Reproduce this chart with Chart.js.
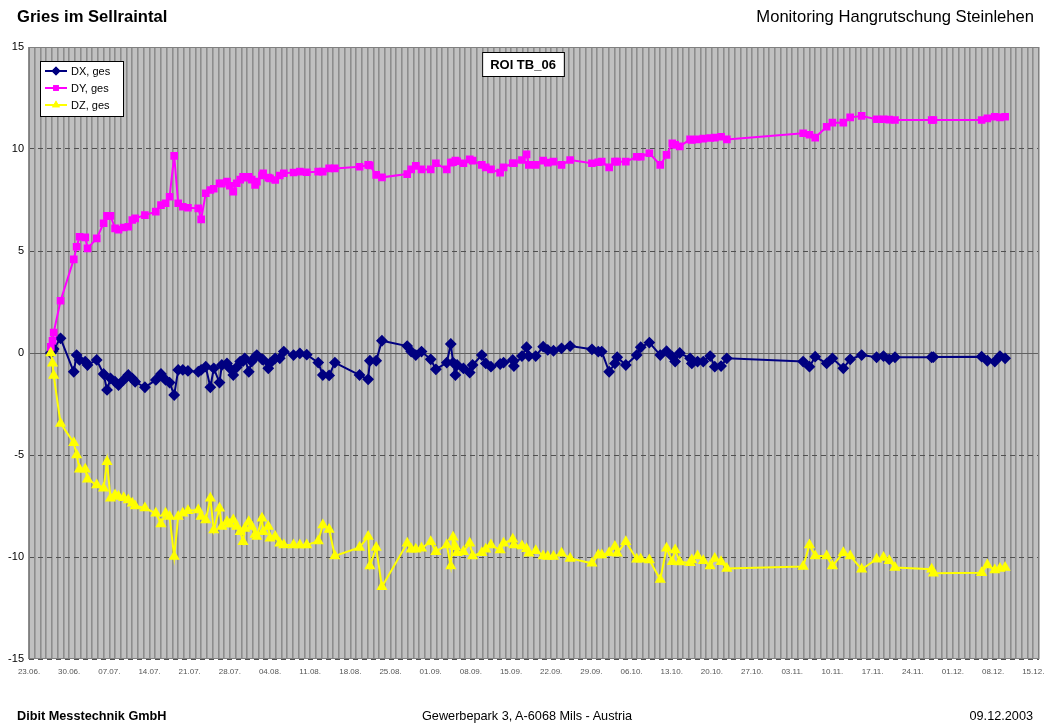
<!DOCTYPE html>
<html>
<head>
<meta charset="utf-8">
<script src="https://cdn.jsdelivr.net/npm/chart.js@4/dist/chart.umd.min.js"></script>
<style>
  html,body{margin:0;padding:0;background:#fff;}
  #wrap{position:relative;width:1048px;height:728px;overflow:hidden;font-family:"Liberation Sans",Arial,sans-serif;}
  #c{position:absolute;left:0;top:0;}
  .t{position:absolute;white-space:nowrap;color:#000;}
</style>
</head>
<body>
<div id="wrap">
  <canvas id="c" width="1048" height="728"></canvas>
  <div class="t" style="left:17px;top:7px;font-size:16.6px;font-weight:bold;">Gries im Sellraintal</div>
  <div class="t" style="right:14px;top:7px;font-size:16.6px;">Monitoring Hangrutschung Steinlehen</div>
  <div class="t" style="left:17px;top:709px;font-size:12.7px;font-weight:bold;">Dibit Messtechnik GmbH</div>
  <div class="t" style="left:422px;top:709px;font-size:12.7px;">Gewerbepark 3, A-6068 Mils - Austria</div>
  <div class="t" style="right:15px;top:709px;font-size:12.7px;">09.12.2003</div>
</div>
<script>
// ---- data (x = days since 23.06.2003) ----
const days = [3.8,4.1,4.3,5.5,7.8,8.3,8.8,9.8,10.2,11.8,13.0,13.6,14.2,15.0,15.6,16.5,17.3,18.0,18.5,20.2,
22.1,23.0,23.8,24.5,25.3,26.0,26.8,27.7,29.5,30.0,30.8,31.6,32.2,33.2,33.6,34.5,35.0,35.6,36.2,36.8,
37.3,37.6,38.3,38.8,39.4,39.7,40.6,40.8,41.7,42.0,42.9,43.7,44.4,46.1,47.2,48.4,50.4,51.2,52.3,53.3,
57.6,59.1,59.4,60.5,61.5,65.9,66.6,67.4,68.4,70.0,70.9,72.8,73.5,73.9,74.3,74.6,75.7,76.8,77.3,78.9,
79.6,80.5,82.1,82.7,84.3,84.5,85.9,86.7,87.1,88.3,89.6,90.4,91.4,92.8,94.3,98.1,99.2,99.8,101.1,102.1,
102.5,104.0,105.9,106.6,108.1,110.0,111.1,112.1,112.6,113.4,115.2,115.5,116.5,117.5,118.7,119.5,120.6,121.6,
134.9,136.0,137.0,139.0,140.0,141.9,143.1,145.1,147.7,148.9,149.9,150.9,157.3,157.6,166.0,167.0,168.3,169.2,170.1];
const dx = [0.0,0.1,0.2,0.72,-0.92,-0.10,-0.34,-0.42,-0.59,-0.34,-1.03,-1.81,-1.24,-1.41,-1.57,-1.32,-1.08,-1.25,-1.41,-1.68,
-1.32,-1.03,-1.32,-1.45,-2.06,-0.83,-0.83,-0.88,-0.92,-0.83,-0.67,-1.68,-0.75,-1.45,-0.59,-0.51,-0.75,-1.08,-0.70,-0.42,
-0.40,-0.26,-0.92,-0.42,-0.20,-0.10,-0.30,-0.34,-0.75,-0.50,-0.26,-0.26,0.07,-0.10,-0.02,-0.08,-0.47,-1.08,-1.10,-0.47,
-1.08,-1.29,-0.38,-0.38,0.60,0.34,0.07,-0.10,0.07,-0.31,-0.80,-0.47,0.44,-0.47,-1.08,-0.59,-0.75,-0.96,-0.59,-0.10,
-0.51,-0.67,-0.54,-0.47,-0.34,-0.64,-0.15,0.28,-0.15,-0.15,0.31,0.15,0.11,0.23,0.34,0.18,0.07,0.07,-0.92,-0.51,
-0.21,-0.59,-0.10,0.28,0.51,-0.10,0.09,-0.18,-0.42,0.00,-0.26,-0.51,-0.42,-0.42,-0.15,-0.67,-0.64,-0.26,
-0.42,-0.67,-0.18,-0.51,-0.26,-0.75,-0.31,-0.10,-0.21,-0.15,-0.31,-0.21,-0.21,-0.20,-0.18,-0.38,-0.42,-0.15,-0.26];
const dy = [0.3,0.6,1.0,2.56,4.59,5.21,5.70,5.67,5.13,5.62,6.36,6.72,6.72,6.11,6.05,6.15,6.19,6.52,6.60,6.76,
6.93,7.25,7.34,7.66,9.66,7.34,7.17,7.12,7.09,6.55,7.83,7.99,8.05,8.32,8.30,8.40,8.20,7.91,8.32,8.50,
8.64,8.60,8.64,8.50,8.24,8.40,8.70,8.81,8.60,8.56,8.48,8.70,8.81,8.85,8.89,8.86,8.89,8.89,9.05,9.05,
9.13,9.22,9.20,8.73,8.61,8.77,9.00,9.17,9.00,9.00,9.30,9.00,9.33,9.35,9.43,9.40,9.30,9.49,9.43,9.22,
9.10,9.00,8.84,9.10,9.30,9.30,9.46,9.74,9.22,9.22,9.43,9.33,9.38,9.22,9.46,9.30,9.35,9.38,9.10,9.38,
9.38,9.38,9.62,9.62,9.79,9.22,9.71,10.28,10.20,10.13,10.47,10.45,10.47,10.51,10.54,10.56,10.60,10.47,
10.77,10.70,10.56,11.09,11.29,11.29,11.55,11.62,11.46,11.46,11.44,11.42,11.42,11.42,11.42,11.50,11.58,11.55,11.58];
const dz = [0.0,-0.5,-1.1,-3.45,-4.40,-5.00,-5.70,-5.70,-6.19,-6.47,-6.63,-5.33,-7.12,-6.96,-7.04,-7.10,-7.21,-7.37,-7.50,-7.60,
-7.86,-8.38,-7.86,-8.02,-9.98,-8.02,-7.86,-7.73,-7.70,-8.02,-8.19,-7.12,-8.68,-7.61,-8.51,-8.27,-8.40,-8.19,-8.50,-8.76,
-9.25,-8.60,-8.27,-8.51,-8.90,-9.00,-8.10,-8.76,-8.51,-9.08,-9.00,-9.33,-9.41,-9.41,-9.41,-9.41,-9.22,-8.43,-8.65,-9.95,
-9.53,-9.00,-10.44,-9.53,-11.46,-9.33,-9.62,-9.62,-9.57,-9.25,-9.74,-9.41,-10.44,-9.03,-9.50,-9.79,-9.74,-9.33,-9.95,-9.79,
-9.62,-9.41,-9.66,-9.33,-9.13,-9.41,-9.46,-9.60,-9.82,-9.69,-9.95,-9.98,-9.98,-9.82,-10.07,-10.31,-9.90,-9.90,-9.79,-9.49,
-9.82,-9.25,-10.11,-10.11,-10.15,-11.10,-9.57,-10.23,-9.66,-10.25,-10.28,-10.15,-9.95,-10.18,-10.44,-10.07,-10.23,-10.56,
-10.47,-9.41,-9.95,-9.95,-10.44,-9.79,-9.95,-10.60,-10.11,-10.02,-10.18,-10.51,-10.60,-10.80,-10.77,-10.39,-10.64,-10.56,-10.51];
const weekLabels = ["23.06.","30.06.","07.07.","14.07.","21.07.","28.07.","04.08.","11.08.","18.08.","25.08.",
"01.09.","08.09.","15.09.","22.09.","29.09.","06.10.","13.10.","20.10.","27.10.","03.11.","10.11.","17.11.",
"24.11.","01.12.","08.12.","15.12."];
const seriesNames = ["DX, ges","DY, ges","DZ, ges"];
const chartTitle = "ROI TB_06";

const toPts = v => v.map((y,i)=>({x:days[i], y:y}));

const bgPlugin = {
  id:'bg',
  beforeDraw(chart){
    const {ctx, chartArea:a} = chart;
    ctx.save(); ctx.fillStyle='#c0c0c0'; ctx.fillRect(a.left,a.top,a.right-a.left,a.bottom-a.top); ctx.restore();
  },
  afterDatasetsDraw(chart){
    const {ctx, chartArea:a} = chart;
    ctx.save();
    ctx.strokeStyle='#808080'; ctx.lineWidth=1;
    ctx.strokeRect(a.left+0.5,a.top+0.5,a.right-a.left-1,a.bottom-a.top-1);
    // title box
    ctx.font='bold 13px "Liberation Sans", Arial, sans-serif';
    const tw = ctx.measureText(chartTitle).width;
    const cx = 523, cy = 64;
    ctx.fillStyle='#fff'; ctx.fillRect(cx-tw/2-8, 52, tw+16, 24);
    ctx.strokeStyle='#000'; ctx.strokeRect(cx-tw/2-8+0.5, 52.5, tw+16, 24);
    ctx.fillStyle='#000'; ctx.textAlign='center'; ctx.textBaseline='middle';
    ctx.fillText(chartTitle, cx, cy+1);
    // legend box
    ctx.fillStyle='#fff'; ctx.fillRect(40,61,83,55);
    ctx.strokeStyle='#000'; ctx.strokeRect(40.5,61.5,83,55);
    ctx.font='11px "Liberation Sans", Arial, sans-serif';
    ctx.textAlign='left';
    chart.data.datasets.forEach((ds,i)=>{
      const y = 71 + i*17;
      ctx.strokeStyle=ds.borderColor; ctx.lineWidth=2;
      ctx.beginPath(); ctx.moveTo(45,y); ctx.lineTo(67,y); ctx.stroke();
      ctx.fillStyle=ds.pointBackgroundColor;
      Chart.helpers.drawPoint(ctx,{pointStyle:ds.pointStyle,radius:ds.pointRadius,borderWidth:0},56,y);
      ctx.fill();
      ctx.fillStyle='#000'; ctx.fillText(ds.label,71,y+1);
    });
    ctx.restore();
  }
};

new Chart(document.getElementById('c'),{
  type:'line',
  data:{datasets:[
    {label:seriesNames[0],data:toPts(dx),borderColor:'#000080',backgroundColor:'#000080',pointBackgroundColor:'#000080',pointBorderColor:'#000080',pointStyle:'rectRot',pointRadius:4.5,borderWidth:2,order:3},
    {label:seriesNames[1],data:toPts(dy),borderColor:'#ff00ff',backgroundColor:'#ff00ff',pointBackgroundColor:'#ff00ff',pointBorderColor:'#ff00ff',pointStyle:'rect',pointRadius:4,borderWidth:2,order:2},
    {label:seriesNames[2],data:toPts(dz),borderColor:'#ffff00',backgroundColor:'#ffff00',pointBackgroundColor:'#ffff00',pointBorderColor:'#ffff00',pointStyle:'triangle',pointRadius:4.5,borderWidth:2,order:1}
  ]},
  options:{
    responsive:false, animation:false,
    layout:{padding:{top:47,right:9,left:0,bottom:0}},
    plugins:{legend:{display:false},tooltip:{enabled:false}},
    elements:{line:{tension:0},point:{borderWidth:1}},
    scales:{
      x:{type:'linear',min:0,max:176,
        afterFit(s){s.height=69;},
        grid:{color:'#8c8c8c',lineWidth:1.6,drawTicks:false},
        border:{display:false},
        ticks:{stepSize:1,autoSkip:false,maxRotation:0,minRotation:0,padding:8,color:'#555',
          font:{size:8,family:'"Liberation Sans", Arial, sans-serif'},
          callback:(v)=> (v%7===0 && weekLabels[v/7]!==undefined) ? weekLabels[v/7] : ''}
      },
      y:{min:-15,max:15,
        afterFit(s){s.width=29;},
        grid:{color:(c)=> c.tick.value===0 ? '#606060' : '#505050',lineWidth:1,drawTicks:false},
        border:{display:false,dash:(c)=> c.tick && c.tick.value===0 ? [] : [5,4]},
        ticks:{stepSize:5,padding:5,color:'#000',font:{size:11,family:'"Liberation Sans", Arial, sans-serif'}}
      }
    }
  },
  plugins:[bgPlugin]
});
</script>
</body>
</html>
